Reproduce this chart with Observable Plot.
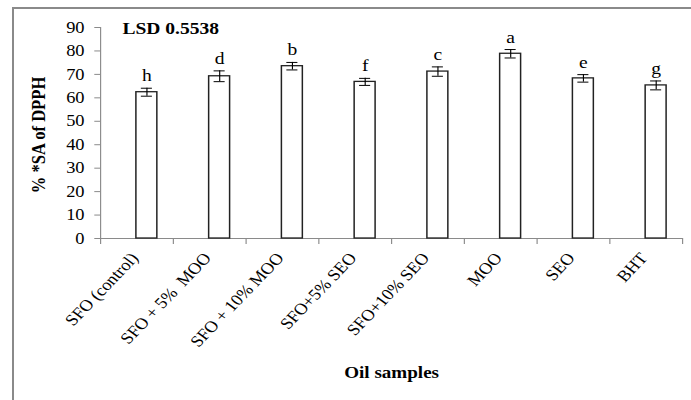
<!DOCTYPE html>
<html><head><meta charset="utf-8">
<script src="https://cdn.jsdelivr.net/npm/d3@7"></script>
<script src="https://cdn.jsdelivr.net/npm/@observablehq/plot@0.6"></script>
<style>
body{margin:0;background:#fff;overflow:hidden;width:691px;height:400px}
#frame{position:absolute;left:12px;top:7px;width:720px;height:420px;border-left:2px solid #8a8a8a;border-top:2px solid #8a8a8a;box-sizing:border-box}
#chart{position:absolute;left:0;top:0}
#chart svg, #chart svg text{font-family:"Times New Roman","Liberation Serif",Times,serif !important}
</style></head><body><div id="frame"></div><div id="chart"></div>
<script>
const categories = ["SFO (control)", "SFO + 5%\u00a0 MOO", "SFO + 10% MOO", "SFO+5% SEO", "SFO+10% SEO", "MOO", "SEO", "BHT"];
const values = [62.4, 69.2, 73.5, 66.8, 71.2, 78.8, 68.3, 65.3];
const errors = [1.7, 2.3, 1.6, 1.5, 2.0, 1.8, 1.6, 1.9];
const letters = ["h", "d", "b", "f", "c", "a", "e", "g"];
const yTicks = [0, 10, 20, 30, 40, 50, 60, 70, 80, 90];
const title = "LSD 0.5538";
const yLabel = "% *SA of DPPH";
const xLabel = "Oil samples";

const W = 601, H = 400, S = 691 / W;
const gray = "#8a8a8a";
const font = "'Times New Roman', 'Liberation Serif', Times, serif";
const data = categories.map((c, i) => ({i, c, v: values[i], e: errors[i], l: letters[i]}));
const off = 0.137, hw = 0.144, cw = 0.076;
const cx = d => d.i + 0.5 + off;

const plot = Plot.plot({
  width: W, height: H,
  marginLeft: 87, marginRight: 7.8, marginTop: 27, marginBottom: 162,
  style: {fontFamily: font, background: "transparent", color: "#000"},
  x: {domain: [0, categories.length]},
  y: {domain: [0, 90]},
  marks: [
    Plot.axisY({ticks: yTicks, tickSize: 5, tickPadding: 9, fontSize: 16, stroke: gray, fill: "#000", label: null}),
    Plot.axisX({ticks: d3.range(0, categories.length + 1), tickSize: 6, tickFormat: () => "", stroke: gray, label: null}),
    Plot.ruleX([0], {y1: 0, y2: 90, stroke: gray}),
    Plot.ruleY([0], {x1: 0, x2: categories.length, stroke: gray}),
    Plot.rectY(data, {x1: d => cx(d) - hw, x2: d => cx(d) + hw, y1: 0, y2: "v", fill: "white", stroke: "#222", strokeWidth: 1.3}),
    Plot.ruleX(data, {x: cx, y1: d => d.v - d.e, y2: d => d.v + d.e, stroke: "#000", strokeWidth: 1}),
    Plot.ruleY(data, {y: d => d.v + d.e, x1: d => cx(d) - cw, x2: d => cx(d) + cw, stroke: "#000", strokeWidth: 1}),
    Plot.ruleY(data, {y: d => d.v - d.e, x1: d => cx(d) - cw, x2: d => cx(d) + cw, stroke: "#000", strokeWidth: 1}),
    Plot.text(data, {x: cx, y: d => d.v + d.e, text: "l", dy: -7, lineAnchor: "bottom", fontSize: 17, fill: "#000"}),
    Plot.text(data, {x: d => d.i + 0.5, y: 0, text: "c", rotate: -50, textAnchor: "end", lineAnchor: "bottom", dx: 2, dy: 20, fontSize: 16, fill: "#000"}),
    Plot.text([yLabel], {text: d => d, frameAnchor: "left", rotate: -90, dx: -54, dy: 2, fontWeight: "bold", fontSize: 16.6, textAnchor: "middle", lineAnchor: "middle", fill: "#000"}),
    Plot.text([title], {text: d => d, frameAnchor: "top-left", dx: 19, dy: 1, fontWeight: "bold", fontSize: 17, textAnchor: "start", lineAnchor: "middle", fill: "#000"}),
    Plot.text([xLabel], {text: d => d, frameAnchor: "bottom", dy: 134, fontWeight: "bold", fontSize: 16.6, textAnchor: "middle", lineAnchor: "middle", fill: "#000"})
  ]
});
plot.setAttribute("width", 691);
plot.setAttribute("height", 400);
plot.setAttribute("preserveAspectRatio", "none");
plot.style.width = "691px";
plot.style.height = "400px";
plot.style.maxWidth = "none";
document.getElementById("chart").appendChild(plot);
</script>
</body></html>
